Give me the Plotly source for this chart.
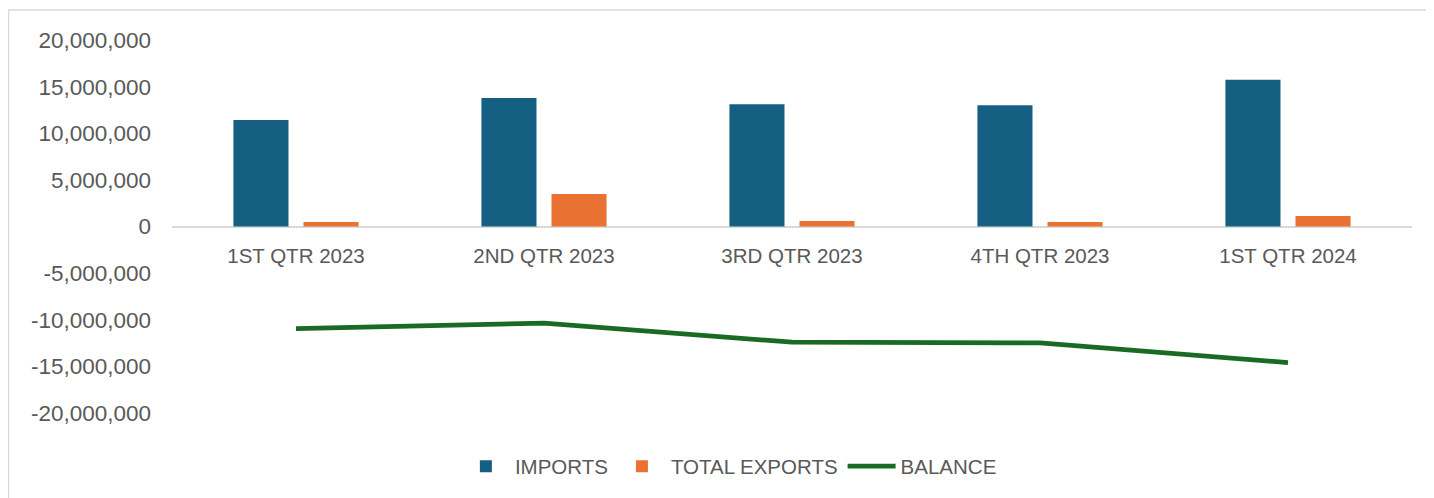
import plotly.graph_objects as go

categories = ["1ST QTR 2023", "2ND QTR 2023", "3RD QTR 2023", "4TH QTR 2023", "1ST QTR 2024"]
imports = [11410000, 13770000, 13100000, 12990000, 15730000]
total_exports = [480000, 3480000, 590000, 480000, 1130000]
balance = [-10960000, -10370000, -12410000, -12490000, -14600000]
y_ticks = [-20000000, -15000000, -10000000, -5000000, 0, 5000000, 10000000, 15000000, 20000000]
y_ticktext = [f"{v:,}" for v in y_ticks]

TEXT = "#595959"
FONT = "Liberation Sans"

fig = go.Figure()
fig.add_trace(go.Bar(name="IMPORTS", x=categories, y=imports, marker_color="#156082",
                     marker_line_width=0))
fig.add_trace(go.Bar(name="TOTAL EXPORTS", x=categories, y=total_exports, marker_color="#E97132",
                     marker_line_width=0))
fig.add_trace(go.Scatter(name="BALANCE", x=categories, y=balance, mode="lines",
                         line=dict(color="#196B24", width=4.75)))

fig.update_layout(
    width=1434, height=498,
    margin=dict(l=164, r=30, t=32, b=93),
    paper_bgcolor="white", plot_bgcolor="white",
    barmode="group", bargap=0.435, bargroupgap=0.214,
    font=dict(family=FONT, size=20, color=TEXT),
    showlegend=True,
    legend=dict(orientation="h", x=0.4495, xanchor="center", y=-0.143, yanchor="middle",
                font=dict(family=FONT, size=20.5, color=TEXT), itemwidth=48,
                traceorder="normal"),
    xaxis=dict(anchor="free", position=0.5, showline=False, showgrid=False,
               zeroline=False, ticks="", ticklabelstandoff=15,
               tickfont=dict(family=FONT, size=20.5, color=TEXT)),
    yaxis=dict(range=[-20000000, 20000000], tickvals=y_ticks, ticktext=y_ticktext,
               showgrid=False, showline=False,
               zeroline=True, zerolinecolor="#d9d9d9", zerolinewidth=2,
               ticklabelstandoff=20,
               tickfont=dict(family=FONT, size=22.5, color=TEXT)),
    shapes=[dict(type="rect", xref="paper", yref="paper",
                 x0=-0.1319, x1=1.0129, y0=-0.25, y1=1.0804,
                 line=dict(color="#d9d9d9", width=1.5), fillcolor="rgba(0,0,0,0)",
                 layer="below")],
)

fig.write_html("out.html")
